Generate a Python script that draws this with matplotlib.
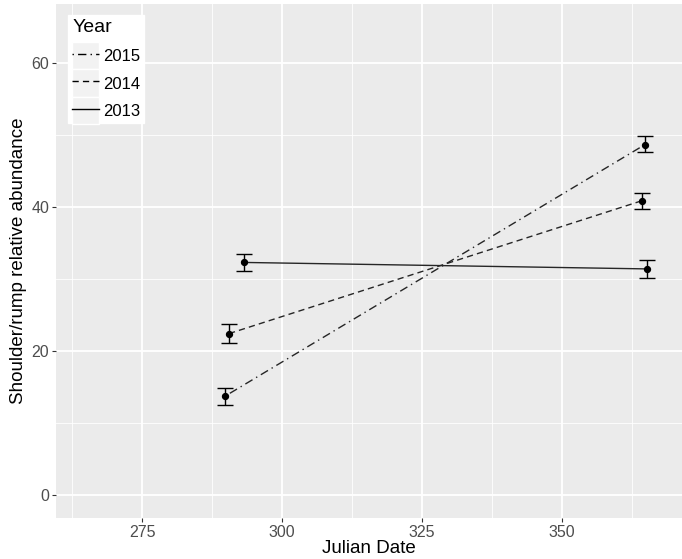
import numpy as np
import matplotlib
matplotlib.use("Agg")
from matplotlib import pyplot as plt
from matplotlib.legend_handler import HandlerLine2D
from matplotlib.patches import Rectangle

plt.rcParams['font.family'] = ['Liberation Sans', 'DejaVu Sans']

# values
years = ['2015', '2014', '2013']
date_2015 = [289.8, 364.8]
mean_2015 = [13.7, 48.7]
lo_2015 = [12.4, 47.6]
hi_2015 = [14.9, 49.9]

date_2014 = [290.5, 364.3]
mean_2014 = [22.4, 40.9]
lo_2014 = [21.1, 39.8]
hi_2014 = [23.7, 42.0]

date_2013 = [293.2, 365.2]
mean_2013 = [32.3, 31.4]
lo_2013 = [31.1, 30.2]
hi_2013 = [33.5, 32.6]

xticks = [275, 300, 325, 350]
yticks = [0, 20, 40, 60]

styles = {'2015': (0, (1, 3, 6, 3)), '2014': (0, (4.5, 3)), '2013': '-'}
series = {
    '2015': (date_2015, mean_2015, lo_2015, hi_2015),
    '2014': (date_2014, mean_2014, lo_2014, hi_2014),
    '2013': (date_2013, mean_2013, lo_2013, hi_2013),
}

fig = plt.figure(figsize=(6.82, 5.59), dpi=100)
ax = fig.add_axes([56/682, 1-518/559, 1-56/682, (518-4)/559])
ax.set_facecolor('#EBEBEB')
for s in ax.spines.values():
    s.set_visible(False)

for yr in years:
    d, m, lo, hi = series[yr]
    ax.plot(d, m, color='#262626', lw=1.0, linestyle=styles[yr], zorder=3)
    ax.errorbar(d, m, yerr=[np.array(m)-np.array(lo), np.array(hi)-np.array(m)],
                fmt='none', ecolor='black', elinewidth=1.0, capsize=5.5, capthick=1.0, zorder=4)
    ax.scatter(d, m, s=18, color='black', zorder=5)

ax.set_xlim(259.6, 371.4)
ax.set_ylim(-3.25, 68.25)
ax.set_xticks(xticks)
ax.set_yticks(yticks)
ax.set_xticks([262.5, 287.5, 312.5, 337.5, 362.5], minor=True)
ax.set_yticks([10, 30, 50], minor=True)
ax.grid(which='major', color='white', lw=1.3)
ax.grid(which='minor', color='white', lw=0.6)
ax.set_axisbelow(True)
ax.tick_params(which='major', length=3, width=0.8, color='#333333', labelcolor='#4D4D4D',
               labelsize=11.5, pad=2)
ax.tick_params(which='minor', length=0)
ax.set_xlabel('Julian Date', fontsize=13.5, labelpad=0)
ax.set_ylabel('Shoulder/rump relative abundance', fontsize=13.5, labelpad=3)


class KeyHandler(HandlerLine2D):
    def create_artists(self, legend, orig, xdescent, ydescent, width, height, fontsize, trans):
        bg = Rectangle((-xdescent, -ydescent - 0.31*fontsize), width, height + 0.62*fontsize,
                       facecolor='#F2F2F2', edgecolor='white', lw=1, transform=trans)
        arts = super().create_artists(legend, orig, xdescent, ydescent, width, height, fontsize, trans)
        return [bg] + list(arts)


leg = ax.legend(handles=[plt.Line2D([], [], color='black', lw=1.0, linestyle=styles[y]) for y in years],
                labels=years, title='Year', loc='upper left', bbox_to_anchor=(12/626, 1-11/514),
                fontsize=12, title_fontsize=14, frameon=True, fancybox=False, framealpha=1,
                edgecolor='white', borderpad=0.25, labelspacing=0.63, handlelength=1.6,
                handleheight=1.2, handletextpad=0.25, borderaxespad=0,
                handler_map={plt.Line2D: KeyHandler(marker_pad=0)})
leg._legend_box.align = 'left'

fig.savefig('out.png', dpi=100)
